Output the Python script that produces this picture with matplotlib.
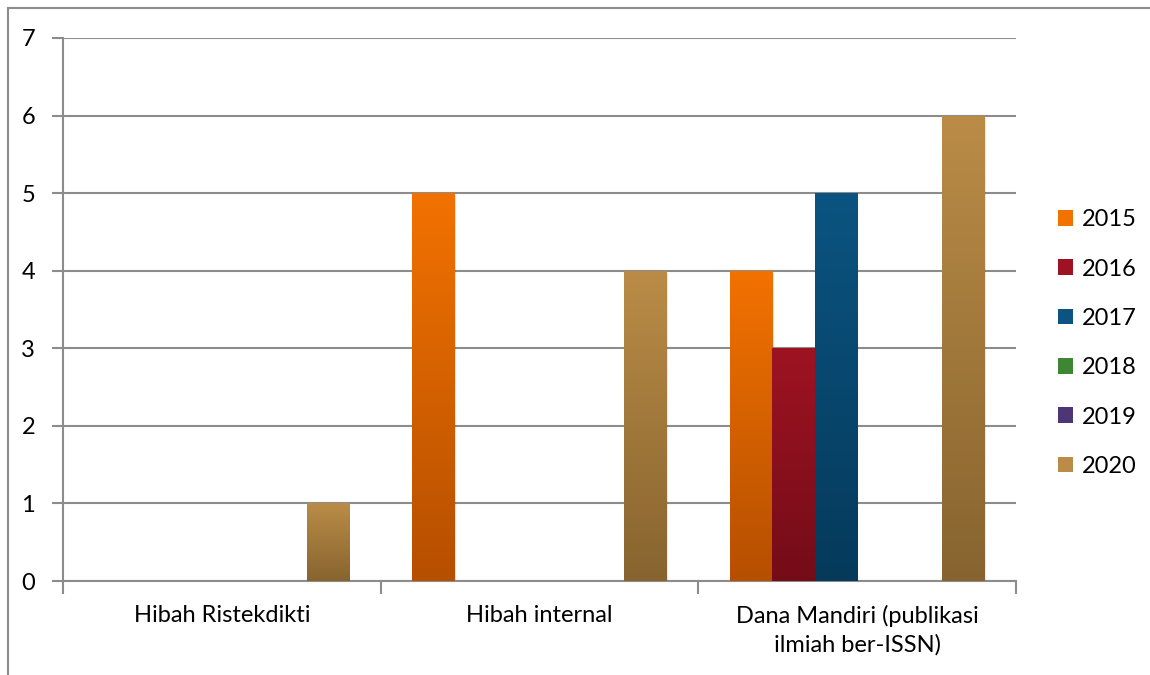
import matplotlib
matplotlib.use("Agg")
import matplotlib.pyplot as plt
import numpy as np
from matplotlib.colors import LinearSegmentedColormap
from matplotlib.patches import Patch
from matplotlib.lines import Line2D

plt.rcParams['font.family'] = ['Lato', 'DejaVu Sans']

categories = ["Hibah Ristekdikti", "Hibah internal", "Dana Mandiri (publikasi\nilmiah ber-ISSN)"]
years = ["2015", "2016", "2017", "2018", "2019", "2020"]
v2015 = [0, 5, 4]
v2016 = [0, 0, 3]
v2017 = [0, 0, 5]
v2018 = [0, 0, 0]
v2019 = [0, 0, 0]
v2020 = [1, 4, 6]
series = [v2015, v2016, v2017, v2018, v2019, v2020]

tops = ["#F27200", "#9E1322", "#0B5481", "#3E8534", "#4E3575", "#BA8C47"]
bottoms = ["#B64F00", "#740C18", "#053A5B", "#2D6126", "#37244F", "#87642F"]

FS = 17

fig = plt.figure(figsize=(11.5, 6.75), dpi=100)
ax = fig.add_axes([63/1150, 1-581/675, (1016-63)/1150, (581-38)/675])

n = len(years)
w = 1.0 / (n + 1.5)
x = np.arange(len(categories))
grad = np.linspace(0, 1, 256).reshape(-1, 1)

for i, (vals, ct, cb) in enumerate(zip(series, tops, bottoms)):
    cmap = LinearSegmentedColormap.from_list(f"g{i}", [cb, ct])
    bars = ax.bar(x + (i - (n - 1) / 2) * w, vals, width=w, color=ct, zorder=3,
                  linewidth=0)
    for b in bars:
        h = b.get_height()
        if h <= 0:
            continue
        b.set_facecolor("none")
        bx, by = b.get_x(), b.get_y()
        # subtle shadow
        ax.bar(bx + b.get_width()/2 + 0.004, h, width=b.get_width(), bottom=-0.03,
               color="#00000018", linewidth=0, zorder=2.5)
        im = ax.imshow(grad, extent=[bx, bx + b.get_width(), by, by + h],
                       origin="lower", aspect="auto", cmap=cmap, zorder=3)
        im.set_clip_path(b)

ax.set_xlim(-0.5, len(categories) - 0.5)
ax.set_ylim(0, 7)
ax.set_yticks(range(0, 8))
ax.yaxis.grid(True, color="#8C8C8C", linewidth=1.5, zorder=1)
ax.set_axisbelow(True)

ax.set_xticks(np.arange(-0.5, len(categories), 1.0))
ax.set_xticklabels([])
ax.set_xticks(x, minor=True)
ax.set_xticklabels(categories, minor=True, fontsize=FS, linespacing=1.4)
ax.tick_params(axis='x', which='minor', length=0, pad=17)
ax.tick_params(axis='x', which='major', length=9, width=1.5, color="#8C8C8C", direction='out')
ax.tick_params(axis='y', length=8, width=1.5, color="#8C8C8C", labelsize=FS, pad=12)

for s in ["top", "right"]:
    ax.spines[s].set_visible(False)
for s in ["left", "bottom"]:
    ax.spines[s].set_color("#8C8C8C")
    ax.spines[s].set_linewidth(1.5)

handles = [Patch(facecolor=c, edgecolor='none') for c in tops]
leg = fig.legend(handles, years, loc="center left", bbox_to_anchor=(1037/1150, 1-343/675),
                 frameon=False, fontsize=FS, handlelength=0.64, handleheight=0.64,
                 handletextpad=0.35, labelspacing=1.2)

fig.add_artist(Line2D([8/1150, 8/1150], [0, 1-8/675], color="#8C8C8C", linewidth=1.5))
fig.add_artist(Line2D([8/1150, 1], [1-8/675, 1-8/675], color="#8C8C8C", linewidth=1.5))

fig.savefig("out.png", dpi=100)
